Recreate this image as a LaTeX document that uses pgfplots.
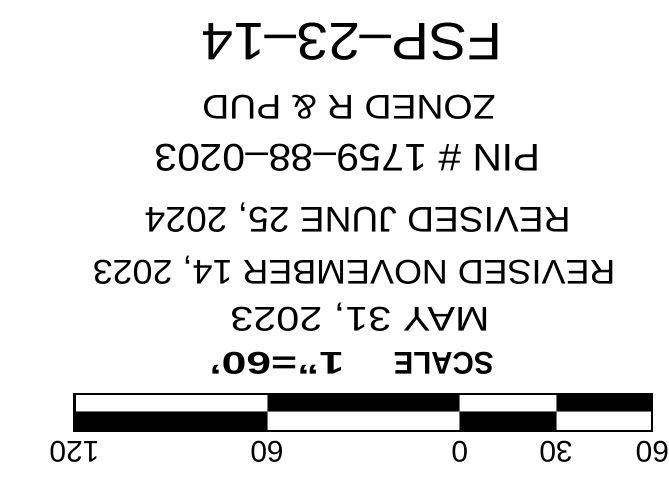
\documentclass[border=0pt]{standalone}
\usepackage{fontspec}
\setmainfont{Liberation Sans}
\usepackage{graphicx}
\usepackage{pgfplots}
\pgfplotsset{compat=1.18}

% scale bar labels: position (x in feet), top of text in picture rows
\pgfplotstableread{
x    y    lab
-60  443  60
-30  443  30
0    443  0
60   443  60
120  443  120
}\scalelabels

% the whole sheet is shown turned by 180 degrees
\newcommand{\fitline}[3]{\resizebox{#1bp}{#2bp}{#3}}

\begin{document}
\begin{tikzpicture}
  \begin{axis}[
      width=669bp, height=483bp,
      scale only axis,
      hide axis,
      clip=false,
      x dir=reverse, y dir=reverse,
      xmin=-64.6, xmax=143.2,
      ymin=0, ymax=483,
      every axis plot/.append style={line join=miter},
    ]
    \addplot[draw=none] coordinates {(-64.6,0) (143.2,483)};

    % black cells of the bar
    \addplot[fill=black, draw=none] coordinates {(60,395) (0,395) (0,413) (60,413) (60,395)};
    \addplot[fill=black, draw=none] coordinates {(-30,395) (-60,395) (-60,413) (-30,413) (-30,395)};
    \addplot[fill=black, draw=none] coordinates {(120,413) (60,413) (60,432) (120,432) (120,413)};
    \addplot[fill=black, draw=none] coordinates {(0,413) (-30,413) (-30,432) (0,432) (0,413)};
    % thin dividers
    \addplot[draw=black!55, line width=1bp] coordinates {(120,413) (-60,413)};
    \addplot[draw=black!55, line width=1bp] coordinates {(60,395) (60,432)};
    \addplot[draw=black!55, line width=1bp] coordinates {(0,395) (0,432)};
    \addplot[draw=black!55, line width=1bp] coordinates {(-30,395) (-30,432)};
    % outline
    \addplot[draw=black, line width=2.2bp] coordinates {(120,395) (-60,395) (-60,432) (120,432) (120,395) (-60,395)};

    % scale numbers
    \addplot[draw=none, mark=none, nodes near coords, point meta=explicit symbolic,
      every node near coord/.style={rotate=180, anchor=base, inner sep=0pt,
        font=\fontsize{30bp}{30bp}\selectfont}]
      table[x=x, y=y, meta=lab] {\scalelabels};

    % text block
    \node[rotate=180, anchor=base, inner sep=0pt] at (axis cs:33.5,24)
      {\fitline{302}{37}{FSP\textendash23\textendash14}};
    \node[rotate=180, anchor=base, inner sep=0pt] at (axis cs:34.5,96)
      {\fitline{294}{24}{ZONED R \& PUD}};
    \node[rotate=180, anchor=base, inner sep=0pt] at (axis cs:34.9,145)
      {\fitline{387}{27}{PIN \# 1759\textendash88\textendash0203}};
    \node[rotate=180, anchor=base, inner sep=0pt] at (axis cs:31.8,208)
      {\fitline{427}{25}{REVISED JUNE 25, 2024}};
    \node[rotate=180, anchor=base, inner sep=0pt] at (axis cs:32.9,261)
      {\fitline{524}{24}{REVISED NOVEMBER 14, 2023}};
    \node[rotate=180, anchor=base, inner sep=0pt] at (axis cs:31.1,308)
      {\fitline{260}{24}{MAY 31, 2023}};
    \node[rotate=180, anchor=base, inner sep=0pt] at (axis cs:5.0,353)
      {\fitline{100}{22}{\bfseries SCALE}};
    \node[rotate=180, anchor=base, inner sep=0pt] at (axis cs:57.0,353)
      {\fitline{135}{22}{\bfseries 1"=60'}};
  \end{axis}
\end{tikzpicture}
\end{document}
